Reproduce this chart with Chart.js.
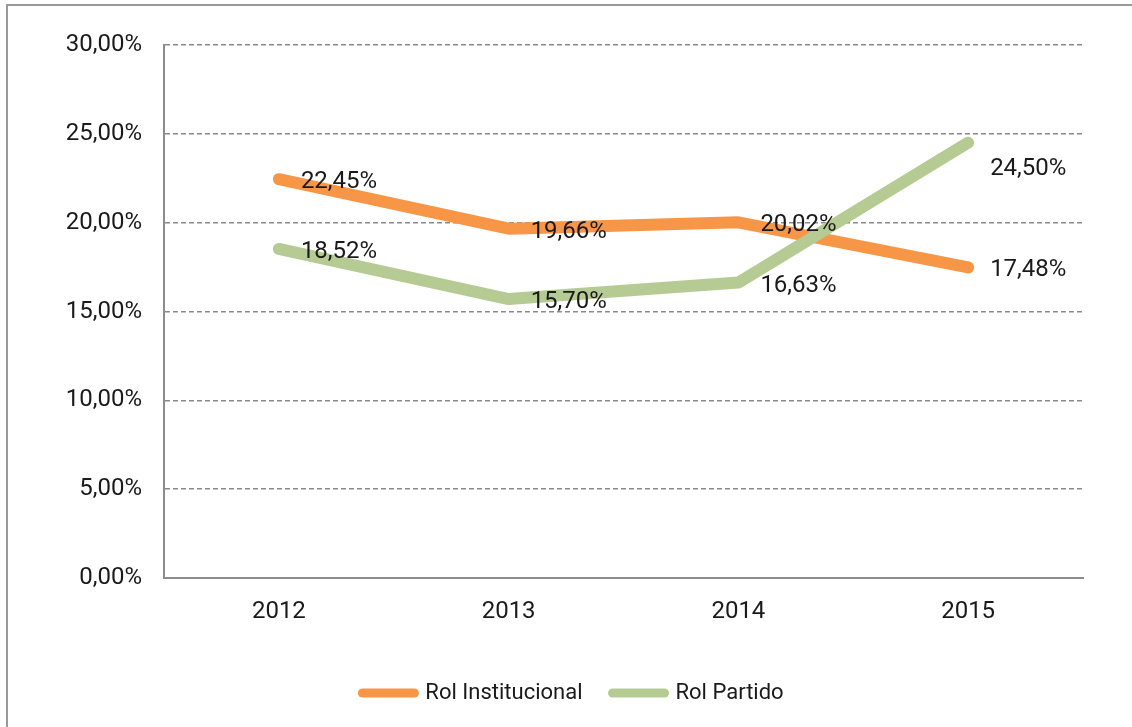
<!DOCTYPE html>
<html>
<head>
<meta charset="utf-8">
<script src="https://cdn.jsdelivr.net/npm/chart.js@4/dist/chart.umd.min.js"></script>
<style>
  body { margin: 0; background: #fff; }
  #wrap { position: relative; width: 1132px; height: 727px; overflow: hidden; }
  #frame { position: absolute; left: 6px; top: 4px; width: 1200px; height: 800px;
           border-left: 2px solid #999; border-top: 2px solid #999; }
  canvas { position: absolute; left: 0; top: 0; }
</style>
</head>
<body>
<div id="wrap">
  <div id="frame"></div>
  <canvas id="chart" width="1132" height="727"></canvas>
</div>
<script>
const years = ['2012', '2013', '2014', '2015']
const rolInstitucional = [22.45, 19.66, 20.02, 17.48]
const rolPartido = [18.52, 15.70, 16.63, 24.50]
const yTicks = [0, 5, 10, 15, 20, 25, 30]

const pct = v => v.toFixed(2).replace('.', ',') + '%'
const FONT = 'Roboto, "Liberation Sans", sans-serif'

// value labels to the right of each point (like Excel "right" position)
const valueLabels = {
  id: 'valueLabels',
  afterDatasetsDraw(chart, args, opts) {
    const ctx = chart.ctx
    ctx.save()
    ctx.font = '24px ' + FONT
    ctx.fillStyle = '#1a1a1a'
    ctx.textAlign = 'left'
    ctx.textBaseline = 'middle'
    chart.data.datasets.forEach((ds, i) => {
      chart.getDatasetMeta(i).data.forEach((pt, j) => {
        const shift = (opts.shifts[i] && opts.shifts[i][j]) || 0
        ctx.fillText(pct(ds.data[j]), pt.x + 22, pt.y + 3 + shift)
      })
    })
    ctx.restore()
  }
}

new Chart(document.getElementById('chart'), {
  type: 'line',
  data: {
    labels: years,
    datasets: [
      {
        label: 'Rol Institucional',
        data: rolInstitucional,
        borderColor: '#f79646',
        backgroundColor: '#f79646',
        borderWidth: 12,
        borderCapStyle: 'round',
        borderJoinStyle: 'round',
        pointRadius: 0,
        tension: 0,
        order: 1
      },
      {
        label: 'Rol Partido',
        data: rolPartido,
        borderColor: '#b5cb93',
        backgroundColor: '#b5cb93',
        borderWidth: 12,
        borderCapStyle: 'round',
        borderJoinStyle: 'round',
        pointRadius: 0,
        tension: 0,
        order: 0
      }
    ]
  },
  options: {
    responsive: false,
    animation: false,
    layout: { padding: { left: 14, right: 0, top: 45, bottom: 13 } },
    scales: {
      x: {
        offset: true,
        grid: { display: false, drawTicks: false },
        border: { display: true, color: '#8c8c8c', width: 2 },
        ticks: { color: '#1a1a1a', font: { family: FONT, size: 24 }, padding: 20 },
        afterFit(scale) { scale.height = 74 }
      },
      y: {
        min: 0,
        max: 30,
        afterBuildTicks(scale) { scale.ticks = yTicks.map(v => ({ value: v })) },
        grid: { color: '#8a8a8a', lineWidth: 1.5, drawTicks: false },
        border: { display: true, color: '#8c8c8c', width: 2, dash: [5, 3] },
        ticks: {
          color: '#1a1a1a',
          font: { family: FONT, size: 24 },
          padding: 22,
          callback: v => pct(v)
        },
        afterFit(scale) { scale.width = 150 }
      },
      // empty right margin so the legend centres on the whole frame
      yRight: {
        type: 'linear',
        position: 'right',
        min: 0,
        max: 1,
        grid: { display: false, drawTicks: false },
        border: { display: false },
        ticks: { display: false },
        afterFit(scale) { scale.width = 49 }
      }
    },
    plugins: {
      tooltip: { enabled: false },
      legend: {
        position: 'bottom',
        labels: {
          color: '#1a1a1a',
          font: { family: FONT, size: 22 },
          usePointStyle: true,
          pointStyle: 'line',
          pointStyleWidth: 52,
          boxWidth: 52,
          boxHeight: 22,
          padding: 30,
          sort: (a, b) => a.datasetIndex - b.datasetIndex,
          generateLabels(chart) {
            const items = Chart.defaults.plugins.legend.labels.generateLabels(chart)
            items.forEach(it => { it.lineWidth = 9; it.lineCap = 'round'; it.pointStyle = 'line' })
            return items
          }
        }
      },
      valueLabels: { shifts: { 1: { 3: 23 } } }
    }
  },
  plugins: [valueLabels]
})
</script>
</body>
</html>
